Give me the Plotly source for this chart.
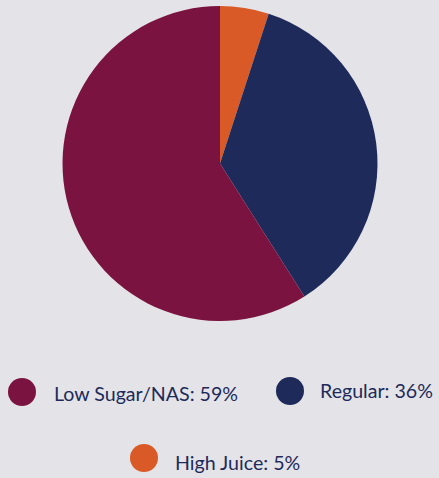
import plotly.graph_objects as go

# Market share by segment
labels = ["High Juice", "Regular", "Low Sugar/NAS"]
values = [5, 36, 59]
colors = ["#D95A26", "#1E2A5A", "#7B1340"]

# Legend layout order and placement (pixel centres of dot and label start)
legend_order = ["Low Sugar/NAS", "Regular", "High Juice"]
legend_dot_px = [(22, 392), (290, 391), (144, 458)]
legend_text_px = [(52, 393), (318, 390), (173, 462)]

W, H = 439, 478
TEXT = "#1E2A5A"

fig = go.Figure(
    go.Pie(
        labels=labels,
        values=values,
        marker=dict(colors=colors, line=dict(width=0)),
        sort=False,
        direction="clockwise",
        rotation=0,
        textinfo="none",
        hoverinfo="label+percent",
        domain=dict(x=[62 / W, 378 / W], y=[1 - 321 / H, 1 - 6 / H]),
        showlegend=False,
    )
)

shapes = []
annotations = []
r = 14
for name, (cx, cy), (tx, ty) in zip(legend_order, legend_dot_px, legend_text_px):
    i = labels.index(name)
    shapes.append(
        dict(
            type="circle", xref="paper", yref="paper",
            x0=(cx - r) / W, x1=(cx + r) / W,
            y0=1 - (cy + r) / H, y1=1 - (cy - r) / H,
            fillcolor=colors[i], line=dict(width=0),
        )
    )
    annotations.append(
        dict(
            text=f"{name}: {values[i]}%",
            xref="paper", yref="paper",
            x=tx / W, y=1 - ty / H,
            xanchor="left", yanchor="middle",
            showarrow=False,
            font=dict(family="Lato", size=19.6, color=TEXT),
        )
    )

fig.update_layout(
    width=W, height=H,
    margin=dict(l=0, r=0, t=0, b=0),
    paper_bgcolor="#E4E4E8",
    plot_bgcolor="#E4E4E8",
    shapes=shapes,
    annotations=annotations,
)

fig.write_html("out.html")
